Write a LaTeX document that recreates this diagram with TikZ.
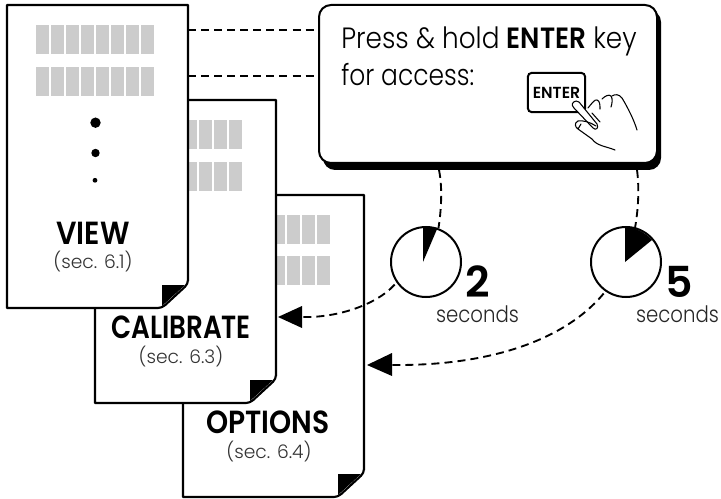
\documentclass[tikz,border=0pt]{standalone}
\usepackage{graphicx}
\usepackage{fontspec}
\setmainfont[BoldFont={Poppins SemiBold}]{Poppins Light}
\usetikzlibrary{arrows.meta}
\definecolor{blockgrey}{gray}{0.8}
\tikzset{
  x=0.75pt,y=-0.75pt,
  pageline/.style={draw=black,line width=1.6pt,fill=white,line join=round},
  fold/.style={fill=black,draw=none},
  blockfill/.style={fill=blockgrey,draw=none},
  link/.style={draw=black,line width=1.4pt,dash pattern=on 6pt off 3.8pt},
  head/.style={fill=black,draw=none},
  clockface/.style={circle,draw=black,line width=1.5pt,minimum size=52.5pt,inner sep=0pt,fill=white},
  title/.style={font=\bfseries\fontsize{24}{24}\selectfont,inner sep=0pt,text=black},
  sec/.style={font=\fontsize{14}{14}\selectfont,inner sep=0pt,text=black!80},
  msg/.style={font=\fontsize{22}{22}\selectfont,inner sep=0pt,anchor=base west},
  num/.style={font=\bfseries\fontsize{32}{32}\selectfont,inner sep=0pt,anchor=base},
  secs/.style={font=\fontsize{17}{17}\selectfont,inner sep=0pt,anchor=base,text=black!85},
  keybox/.style={draw=black,line width=1.5pt,rounded corners=3pt,minimum width=43pt,minimum height=29.5pt,inner sep=0pt,
     font=\bfseries\fontsize{12}{12}\selectfont},
  handline/.style={draw=black,line width=0.8pt,line join=round,line cap=round},
}
\newcommand{\sx}[2]{\scalebox{#1}[1]{#2}}
\newcommand{\blockrow}[3]{% x0, y, count
  \foreach \i in {1,...,#3}{\fill[blockfill] ({#1+15*(\i-1)},#2) rectangle ++(13.4,29);}}
\newcommand{\pagepath}[3]{% left, top, bottom; width 181
  \path[pageline] (#1,#2) -- ({#1+181},#2) -- ({#1+181},{#3-27}) [rounded corners=3pt] -- ({#1+181},{#3-24}) -- ({#1+155},#3) [sharp corners] -- (#1,#3) -- cycle;
  \fill[fold] ({#1+155},{#3-23}) -- ({#1+178},{#3-23}) -- ({#1+155},{#3-2}) -- cycle;}
\begin{document}
\begin{tikzpicture}
\useasboundingbox (0,0) rectangle (721,499);
% options page
\pagepath{183}{195}{497}
\blockrow{212}{215}{8}
\blockrow{212}{256}{8}
\node[title] (optt) at (268,422) {\sx{0.88}{OPTIONS}};
\node[sec] (opts) at (269,452) {(sec. 6.4)};
% calibrate page
\pagepath{95}{100}{403}
\blockrow{124}{120}{8}
\blockrow{124}{162}{8}
\node[title] (calt) at (181,327) {\sx{0.82}{CALIBRATE}};
\node[sec] (cals) at (181,357) {(sec. 6.3)};
% view page
\pagepath{7}{5}{308}
\blockrow{36}{25}{8}
\blockrow{36}{67}{8}
\fill (95.5,122.7) circle (5.2);
\fill (95.5,153) circle (4.2);
\fill (95,180.3) circle (2.4);
\node[title] (vwt) at (93,233.5) {\sx{0.9}{VIEW}};
\node[sec] (vws) at (93,262) {(sec. 6.1)};
% message box
\fill[black,rounded corners=9pt] (323,10) rectangle (661,170);
\node[draw=black,line width=1.5pt,fill=white,rounded corners=9pt,minimum width=253.5pt,minimum height=118.5pt,inner sep=0pt] (box) at (488,84) {};
\node[msg] (l1) at (341,49) {\sx{0.897}{Press \& hold \textbf{ENTER} key}};
\node[msg] (l2) at (341,86) {\sx{0.85}{for access:}};
\node[keybox] (key) at (556.5,92.5) {\sx{0.98}{ENTER}};
% hand
\path[handline,fill=white] (576,101) .. controls (572,102) and (571,105) .. (574,108) -- (593,128) .. controls (596,131) and (599,128) .. (597,124) -- (579,102) .. controls (578,101) and (577,101) .. (576,101) -- cycle;
\path[handline] (588,108) .. controls (592,103) and (595,99) .. (597,100) .. controls (600,101) and (600,105) .. (600,109);
\path[handline] (592,113) -- (600,122);
\path[handline] (602,99) .. controls (605,96) and (609,94) .. (611,96) .. controls (613,99) and (612,104) .. (611,107);
\path[handline] (612,96) .. controls (615,94) and (619,94) .. (622,98) .. controls (628,108) and (634,120) .. (637,130);
\path[handline] (596,126) .. controls (590,122) and (582,120) .. (578,121) .. controls (574,123) and (575,127) .. (578,129) -- (592,139);
\path[handline] (581,124) -- (578,129);
\path[handline] (592,139) .. controls (597,146) and (605,146) .. (615,150);
% connectors from pages to box
\coordinate (v1) at (188,30);
\coordinate (v2) at (188,76);
\coordinate (b1) at (box.west |- v1);
\coordinate (b2) at (box.west |- v2);
\path[link] (v1) -- (b1);
\path[link] (v2) -- (b2);
% clocks
\node[clockface] (ck2) at (426,262) {};
\node[clockface] (ck5) at (626,262) {};
\fill (423,262) -- (423,227) .. controls (428,226.5) and (433,227) .. (437.5,228) -- cycle;
\fill (625,262) -- (625,227) .. controls (634,227) and (645,232) .. (652,240) -- cycle;
\node[num] (n2) at (478,297) {2};
\node[num] (n5) at (679,297) {5};
\node[secs] (s2) at (477.5,322) {\sx{0.87}{seconds}};
\node[secs] (s5) at (677.5,322) {\sx{0.87}{seconds}};
% timed connectors
\coordinate (t2) at (438.5,228);
\coordinate (t5) at (635,228);
\coordinate (s2a) at (439,170);
\coordinate (s5a) at (637,170);
\path[link] (s2a) .. controls (442,185) and (442,205) .. (t2);
\path[link] (s5a) .. controls (639,185) and (639,205) .. (t5);
\coordinate (a2) at (302,317);
\coordinate (a5) at (392,365);
\path[link,shorten <=2pt] (ck2.-145) .. controls (375,306) and (335,318) .. (a2);
\path[link,shorten <=2pt] (ck5.-125) .. controls (565,340) and (490,366) .. (a5);
\fill[head] (278,317) -- (302,306) -- (302,328) -- cycle;
\fill[head] (367,365) -- (392,353) -- (392,376) -- cycle;
\end{tikzpicture}
\end{document}
